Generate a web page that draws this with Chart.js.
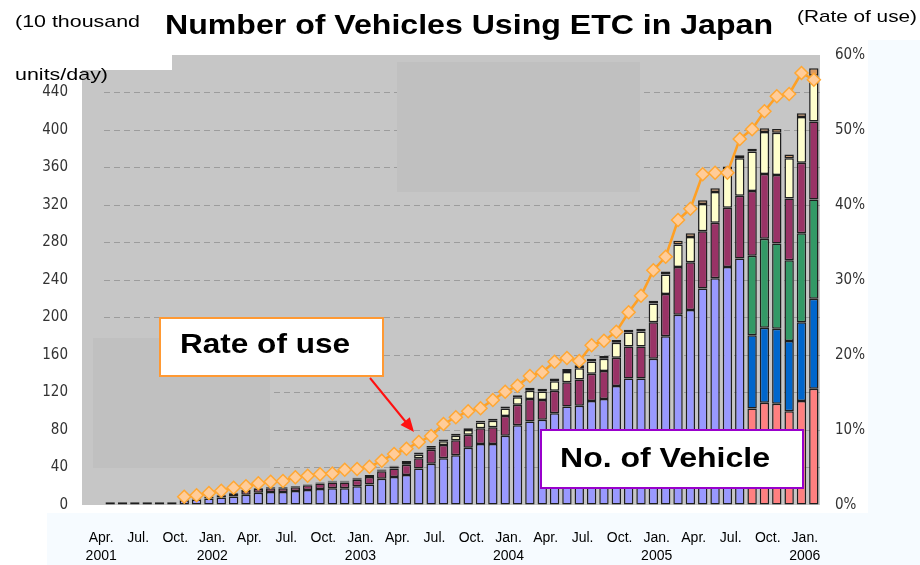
<!DOCTYPE html>
<html>
<head>
<meta charset="utf-8">
<title>Number of Vehicles Using ETC in Japan</title>
<script src="https://cdn.jsdelivr.net/npm/chart.js@4.4.1/dist/chart.umd.min.js"></script>
<style>
  html, body { margin: 0; padding: 0; background: #fff; }
  #wrap { position: relative; width: 920px; height: 565px; }
</style>
</head>
<body>
<div id="wrap"><canvas id="etc-chart"></canvas></div>
<script>
// months, Apr 2001 .. Jan 2006
const categories = [
  '2001-04', '2001-05', '2001-06', '2001-07', '2001-08', '2001-09', '2001-10', '2001-11', '2001-12',
  '2002-01', '2002-02', '2002-03', '2002-04', '2002-05', '2002-06', '2002-07', '2002-08', '2002-09', '2002-10', '2002-11', '2002-12',
  '2003-01', '2003-02', '2003-03', '2003-04', '2003-05', '2003-06', '2003-07', '2003-08', '2003-09', '2003-10', '2003-11', '2003-12',
  '2004-01', '2004-02', '2004-03', '2004-04', '2004-05', '2004-06', '2004-07', '2004-08', '2004-09', '2004-10', '2004-11', '2004-12',
  '2005-01', '2005-02', '2005-03', '2005-04', '2005-05', '2005-06', '2005-07', '2005-08', '2005-09', '2005-10', '2005-11', '2005-12',
  '2006-01'
];
const monthNames = ['Jan.', 'Feb.', 'Mar.', 'Apr.', 'May', 'Jun.', 'Jul.', 'Aug.', 'Sep.', 'Oct.', 'Nov.', 'Dec.'];

// 10 thousand units/day, stacked segments
const lavender = [
  3, 3, 3, 3, 3, 3,
  5, 6, 7, 8, 9, 11, 13, 14, 14, 15,
  16, 17, 18, 18, 20, 22, 28, 30, 32, 39,
  44, 50, 53, 61, 65, 65, 74, 85, 89, 91,
  98, 105, 106, 111, 113, 127, 135, 135, 156, 180,
  203, 208, 231, 242, 254, 263,
  0, 0, 0, 0, 0, 0
];
const pink = [
  0, 0, 0, 0, 0, 0, 0, 0, 0, 0, 0, 0, 0, 0, 0, 0, 0, 0, 0, 0, 0, 0, 0, 0, 0, 0,
  0, 0, 0, 0, 0, 0, 0, 0, 0, 0, 0, 0, 0, 0, 0, 0, 0, 0, 0, 0, 0, 0, 0, 0, 0, 0,
  103, 109, 108, 100, 111, 124
];
const blue = [
  0, 0, 0, 0, 0, 0, 0, 0, 0, 0, 0, 0, 0, 0, 0, 0, 0, 0, 0, 0, 0, 0, 0, 0, 0, 0,
  0, 0, 0, 0, 0, 0, 0, 0, 0, 0, 0, 0, 0, 0, 0, 0, 0, 0, 0, 0, 0, 0, 0, 0, 0, 0,
  78, 80, 80, 75, 84, 96
];
const green = [
  0, 0, 0, 0, 0, 0, 0, 0, 0, 0, 0, 0, 0, 0, 0, 0, 0, 0, 0, 0, 0, 0, 0, 0, 0, 0,
  0, 0, 0, 0, 0, 0, 0, 0, 0, 0, 0, 0, 0, 0, 0, 0, 0, 0, 0, 0, 0, 0, 0, 0, 0, 0,
  85, 95, 91, 86, 95, 106
];
const maroon = [
  0, 0, 0, 0, 0, 0,
  1, 1, 2, 2, 3, 4, 4, 4, 4, 4,
  5, 6, 6, 6, 7, 8, 8, 9, 11, 11,
  15, 14, 16, 14, 17, 18, 21, 22, 24, 21,
  24, 26, 28, 29, 30, 30, 34, 34, 39, 45,
  51, 51, 61, 59, 63, 67,
  69, 69, 73, 66, 75, 83
];
const yellow = [
  0, 0, 0, 0, 0, 0,
  0, 0, 0, 1, 1, 1, 1, 1, 1, 1,
  1, 1, 1, 1, 1, 1, 1, 2, 3, 4,
  2, 4, 5, 5, 6, 7, 8, 8, 9, 9,
  10, 11, 12, 13, 13, 16, 15, 16, 20, 21,
  24, 27, 29, 33, 41, 40,
  42, 45, 45, 43, 49, 49
];
const cap = [
  0, 0, 0, 0, 0, 0,
  0, 0, 0, 0, 0, 0, 0, 0, 0, 0,
  0, 0, 1, 1, 1, 1, 1, 1, 1, 2,
  2, 2, 2, 2, 2, 2, 2, 2, 3, 3,
  3, 3, 3, 3, 3, 3, 3, 3, 3, 3,
  4, 4, 4, 4, 3, 3,
  3, 4, 4, 4, 4, 8
];

// rate of use, %
const rateOfUse = [
  null, null, null, null, null, null,
  1.1, 1.3, 1.6, 1.9, 2.3, 2.5, 2.9, 3.1, 3.2, 3.7,
  3.9, 4.1, 4.2, 4.7, 4.8, 5.1, 5.9, 6.8, 7.5, 8.4,
  9.2, 10.8, 11.7, 12.5, 12.9, 14.0, 15.1, 15.9, 17.2, 17.7,
  19.1, 19.6, 19.2, 21.3, 21.9, 23.1, 25.7, 27.9, 31.3, 33.1,
  38.0, 39.5, 44.1, 44.3, 44.3, 48.8, 50.1, 52.5, 54.5, 54.8,
  57.6, 56.7
];

const leftTicks = { min: 0, max: 480, step: 40 };
const rightTicks = { min: 0, max: 60, step: 10 };

const noZero = (arr) => arr.map((v) => (v === 0 ? null : v));

const barSet = (label, data, color) => ({
  type: 'bar',
  label: label,
  data: noZero(data),
  backgroundColor: color,
  borderColor: '#1e1e1e',
  borderWidth: 1.5,
  borderSkipped: false,
  barPercentage: 0.76,
  categoryPercentage: 1,
  stack: 'units',
  yAxisID: 'y',
  order: 1
});

// draws text stretched to a given width (the header text is wide in the source)
const drawWide = (ctx, text, left, midY, width, font, color) => {
  ctx.save();
  ctx.font = font;
  ctx.fillStyle = color;
  ctx.textAlign = 'left';
  ctx.textBaseline = 'middle';
  const w = ctx.measureText(text).width;
  ctx.translate(left, midY);
  ctx.scale(width / w, 1);
  ctx.fillText(text, 0, 0);
  ctx.restore();
};

const backdrop = {
  id: 'backdrop',
  beforeDraw(chart) {
    const ctx = chart.ctx;
    ctx.save();
    ctx.fillStyle = '#ffffff';
    ctx.fillRect(0, 0, chart.width, chart.height);
    ctx.fillStyle = '#f6fbff';
    ctx.fillRect(868, 40, 52, 525);
    ctx.fillRect(47, 513, 821, 52);
    ctx.fillStyle = '#c6c6c6';
    ctx.fillRect(82, 55, 738, 450);
    ctx.fillStyle = '#ffffff';
    ctx.fillRect(0, 0, 172, 70);
    ctx.restore();
  },
  beforeDatasetsDraw(chart) {
    const ctx = chart.ctx;
    ctx.save();
    ctx.fillStyle = '#c0c0c0';
    ctx.fillRect(93, 338, 177, 130);
    ctx.fillRect(397, 62, 243, 130);
    ctx.restore();
  },
  afterDraw(chart) {
    const ctx = chart.ctx;
    ctx.save();
    drawWide(ctx, 'Number of Vehicles Using ETC in Japan', 165, 26, 608, 'bold 28px "Liberation Sans", Arial, sans-serif', '#000');
    drawWide(ctx, '(10 thousand', 15, 22, 125, '17px "Liberation Sans", Arial, sans-serif', '#000');
    drawWide(ctx, 'units/day)', 15, 75, 93, '17px "Liberation Sans", Arial, sans-serif', '#000');
    drawWide(ctx, '(Rate of use)', 797, 17, 120, '17px "Liberation Sans", Arial, sans-serif', '#000');

    // callout boxes
    ctx.lineWidth = 2;
    ctx.fillStyle = '#ffffff';
    ctx.fillRect(160, 318, 223, 58);
    ctx.strokeStyle = '#ff9933';
    ctx.strokeRect(160, 318, 223, 58);
    drawWide(ctx, 'Rate of use', 180, 346, 170, 'bold 27px "Liberation Sans", Arial, sans-serif', '#000');

    ctx.fillStyle = '#ffffff';
    ctx.fillRect(541, 430, 262, 58);
    ctx.strokeStyle = '#9900cc';
    ctx.strokeRect(541, 430, 262, 58);
    drawWide(ctx, 'No. of Vehicle', 560, 460, 210, 'bold 27px "Liberation Sans", Arial, sans-serif', '#000');

    // arrow
    const x0 = 370, y0 = 378, x1 = 414, y1 = 432;
    const ang = Math.atan2(y1 - y0, x1 - x0);
    ctx.strokeStyle = '#ff1010';
    ctx.fillStyle = '#ff1010';
    ctx.lineWidth = 2;
    ctx.beginPath();
    ctx.moveTo(x0, y0);
    ctx.lineTo(x1 - 10 * Math.cos(ang), y1 - 10 * Math.sin(ang));
    ctx.stroke();
    ctx.beginPath();
    ctx.moveTo(x1, y1);
    ctx.lineTo(x1 - 14 * Math.cos(ang) + 6 * Math.sin(ang), y1 - 14 * Math.sin(ang) - 6 * Math.cos(ang));
    ctx.lineTo(x1 - 14 * Math.cos(ang) - 6 * Math.sin(ang), y1 - 14 * Math.sin(ang) + 6 * Math.cos(ang));
    ctx.closePath();
    ctx.fill();
    ctx.restore();
  }
};

const tickFont = { family: '"Liberation Sans Narrow", "DejaVu Sans Condensed", Arial, sans-serif', size: 15 };

new Chart(document.getElementById('etc-chart'), {
  data: {
    labels: categories,
    datasets: [
      {
        type: 'line',
        label: 'Rate of use',
        data: rateOfUse,
        yAxisID: 'y1',
        borderColor: '#ffa024',
        borderWidth: 2.5,
        pointStyle: 'rectRot',
        pointRadius: 6.5,
        pointBackgroundColor: '#ffcc99',
        pointBorderColor: '#ffa733',
        pointBorderWidth: 1.5,
        tension: 0,
        order: 0
      },
      barSet('Ordinary', lavender, '#9999ff'),
      barSet('Type A', pink, '#ff8080'),
      barSet('Type B', blue, '#0066cc'),
      barSet('Type C', green, '#339966'),
      barSet('Type D', maroon, '#993366'),
      barSet('Type E', yellow, '#ffffcc'),
      barSet('Other', cap, '#d99a62')
    ]
  },
  options: {
    responsive: true,
    maintainAspectRatio: false,
    animation: false,
    layout: { padding: { top: 55, bottom: 0, left: 0, right: 0 } },
    plugins: {
      legend: { display: false },
      tooltip: { enabled: false }
    },
    scales: {
      x: {
        stacked: true,
        offset: true,
        grid: { display: false },
        border: { display: false },
        afterFit: (scale) => { scale.height = 60; },
        ticks: {
          autoSkip: false,
          maxRotation: 0,
          minRotation: 0,
          padding: 16,
          labelOffset: -9,
          color: '#000',
          font: { family: '"Liberation Sans", Arial, sans-serif', size: 14, lineHeight: 1.3 },
          callback: function (value, index) {
            if (index % 3 !== 0) return null;
            const [yr, mo] = categories[index].split('-');
            const name = monthNames[Number(mo) - 1];
            return (index === 0 || mo === '01') ? [name, yr] : name;
          }
        }
      },
      y: {
        stacked: true,
        position: 'left',
        min: leftTicks.min,
        max: leftTicks.max,
        afterFit: (scale) => { scale.width = 104; },
        ticks: {
          stepSize: leftTicks.step,
          padding: 36,
          color: '#333',
          font: tickFont,
          callback: (v) => (v === leftTicks.max ? '' : v)
        },
        grid: {
          drawTicks: false,
          lineWidth: 1,
          color: (c) => (c.tick && (c.tick.value === 0 || c.tick.value === leftTicks.max) ? 'rgba(0,0,0,0)' : '#9c9c9c')
        },
        border: { display: false, dash: [6, 4] }
      },
      y1: {
        position: 'right',
        min: rightTicks.min,
        max: rightTicks.max,
        afterFit: (scale) => { scale.width = 100; },
        ticks: {
          stepSize: rightTicks.step,
          padding: 15,
          color: '#333',
          font: tickFont,
          callback: (v) => v + '%'
        },
        grid: { display: false, drawTicks: false },
        border: { display: false }
      }
    }
  },
  plugins: [backdrop]
});
</script>
</body>
</html>
